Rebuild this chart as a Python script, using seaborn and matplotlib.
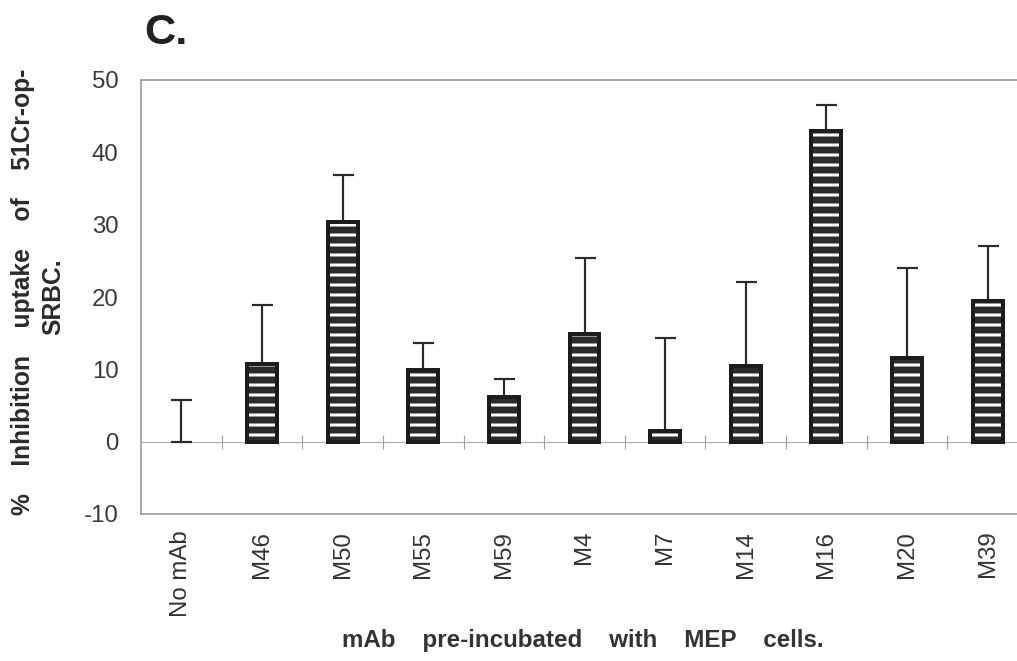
import matplotlib
matplotlib.use("Agg")
import matplotlib.pyplot as plt
import seaborn as sns
import numpy as np

# Data
antibodies = ["No mAb", "M46", "M50", "M55", "M59", "M4", "M7", "M14", "M16", "M20", "M39"]
inhibition = [0.0, 10.7, 30.4, 9.9, 6.2, 14.9, 1.5, 10.5, 43.0, 11.5, 19.4]
upper_error = [5.8, 18.9, 36.9, 13.7, 8.6, 25.4, 14.4, 22.1, 46.5, 24.0, 27.0]
y_ticks = [-10, 0, 10, 20, 30, 40, 50]

sns.set_style("white")
plt.rcParams["font.family"] = ["Liberation Sans", "DejaVu Sans"]
plt.rcParams["hatch.linewidth"] = 1.8

DPI = 120
fig = plt.figure(figsize=(1018 / DPI, 661 / DPI), dpi=DPI)
ax = fig.add_axes([141 / 1018, 147 / 661, 887 / 1018, 434 / 661])

# striped bars: dark fill with white horizontal hatch
sns.barplot(x=antibodies, y=inhibition, order=antibodies, color="#2b2b2b",
            saturation=1, width=0.37, ax=ax, zorder=3)
for p in ax.patches:
    p.set_hatch("--")
    p.set_edgecolor("white")
    p.set_linewidth(0)

# outlines on top (no outline for the empty bar)
xpos = np.arange(len(antibodies))
edges = ["#1c1c1c" if v > 0 else "none" for v in inhibition]
ax.bar(xpos, inhibition, width=0.37, facecolor="none", edgecolor=edges,
       linewidth=2.4, zorder=4)

# one-sided error bars
yerr = [np.zeros(len(inhibition)), np.array(upper_error) - np.array(inhibition)]
ax.errorbar(xpos, inhibition, yerr=yerr, fmt="none", ecolor="#2a2a2a",
            elinewidth=1.3, capsize=6.3, capthick=1.3, zorder=2)

# zero line with category separators
ax.axhline(0, color="#b0b0b0", linewidth=0.7, zorder=1)
ax.plot(xpos[:-1] + 0.5, np.zeros(len(xpos) - 1), linestyle="none", marker="|",
        markersize=8.5, markeredgewidth=0.7, color="#a0a0a0", zorder=1)

ax.set_xlim(-0.5, len(antibodies) - 0.5)
ax.set_ylim(-10, 50)
ax.set_yticks(y_ticks)
ax.set_yticklabels([str(t) for t in y_ticks], fontsize=14.4, color="#3a3a3a")
ax.tick_params(axis="y", length=7, width=0.6, color="#999999", direction="inout", pad=10)
ax.set_xticks(xpos)
ax.set_xticklabels(antibodies, rotation=90, fontsize=14.4, color="#333333")
ax.tick_params(axis="x", length=0, pad=10)

for side in ["top", "left", "bottom"]:
    ax.spines[side].set_linestyle((0, (1, 1)))
    ax.spines[side].set_color("#9a9a9a")
    ax.spines[side].set_linewidth(1.0)
ax.spines["right"].set_visible(False)

ax.set_xlabel("")
ax.set_ylabel("")
fig.text(583 / 1018, 1 - 641 / 661, "mAb    pre-incubated    with    MEP    cells.",
         ha="center", va="center", fontsize=14.5, fontweight="bold", color="#333333")
fig.text(23 / 1018, 1 - 292 / 661, "%    Inhibition    uptake    of    51Cr-op-",
         rotation=90, ha="center", va="center", fontsize=14.8,
         fontweight="bold", color="#2a2a2a")
fig.text(53 / 1018, 1 - 297 / 661, "SRBC.", rotation=90, ha="center",
         va="center", fontsize=14.8, fontweight="bold", color="#2a2a2a")
fig.text(144 / 1018, 1 - 33 / 661, "C.", fontsize=26, fontweight="bold",
         color="#222222", va="center", ha="left")

fig.savefig("out.png", dpi=DPI)
